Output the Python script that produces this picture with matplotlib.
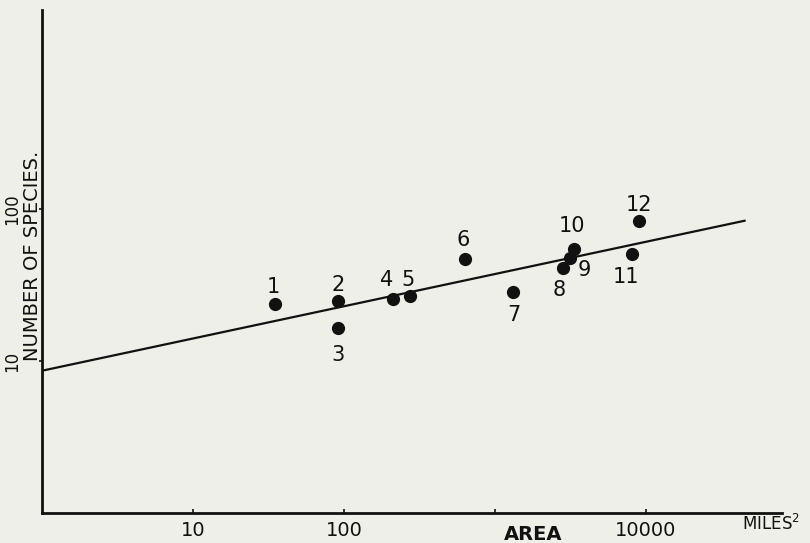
import matplotlib
matplotlib.use("Agg")
import matplotlib.pyplot as plt

# Data (log-log axes)
site_labels = ["1", "2", "3", "4", "5", "6", "7", "8", "9", "10", "11", "12"]
area = [35, 91, 91, 211, 274, 636, 1324, 2830, 3160, 3330, 8130, 8950]
species = [23.6, 24.9, 16.4, 25.5, 26.7, 46.9, 28.3, 41.1, 47.4, 54.3, 50.3, 83.7]

# Fitted line endpoints
line_area = [1, 45700]
line_species = [8.63, 84.0]

# Label offsets in pixels (dx, dy)
label_offsets = [(-2, 17), (0, 16), (0, -27), (-6, 19), (-2, 16), (-2, 19),
                 (0, -23), (-4, -22), (14, -12), (-2, 23), (-6, -23), (0, 16)]

xtick_vals = [10, 100, 1000, 10000]
xtick_labels = ["10", "100", "", "10000"]
ytick_vals = [10, 100]
ytick_labels = ["10", "100"]

bg = "#efefe9"
fig = plt.figure(figsize=(8.1, 5.43), dpi=100, facecolor=bg)
ax = fig.add_axes([42/810, 30/543, 740/810, 503/543])
ax.set_facecolor(bg)
ax.set_xscale("log")
ax.set_yscale("log")
ax.set_xlim(1, 10**(740/151))
ax.set_ylim(1, 10**(503/152))

ax.plot(line_area, line_species, color="#111111", lw=1.6, solid_capstyle="butt")
ax.plot(area, species, "o", color="#111111", ms=8.5, zorder=3)

for lab, x, y, (dx, dy) in zip(site_labels, area, species, label_offsets):
    ax.annotate(lab, (x, y), xytext=(dx, dy), textcoords="offset pixels",
                ha="center", va="center", fontsize=15, color="#111111")

for s in ["top", "right"]:
    ax.spines[s].set_visible(False)
for s in ["left", "bottom"]:
    ax.spines[s].set_linewidth(2.0)
    ax.spines[s].set_color("#111111")

ax.set_xticks(xtick_vals)
ax.set_xticklabels(xtick_labels)
ax.set_xticks([], minor=True)
ax.set_yticks(ytick_vals)
ax.set_yticklabels(ytick_labels)
ax.set_yticks([], minor=True)
ax.tick_params(axis="x", direction="in", length=3, width=1.2, pad=6,
               labelsize=14, colors="#111111")
ax.tick_params(axis="y", direction="out", length=2, width=1.2, pad=13,
               labelsize=12, colors="#111111", labelrotation=90)
for lbl in ax.get_yticklabels():
    lbl.set_va("center")

ax.text((533 - 42) / 740, -21 / 503, "AREA", transform=ax.transAxes,
        ha="center", va="center", fontsize=14, fontweight="bold", color="#111111")
ax.text((742 - 42) / 740, -11 / 503, "MILES$^{2}$", transform=ax.transAxes,
        ha="left", va="center", fontsize=12, color="#111111")
ax.text((33 - 42) / 740, (513 - 256) / 503, "NUMBER OF SPECIES.", transform=ax.transAxes,
        ha="center", va="center", rotation=90, fontsize=14, color="#111111")

fig.savefig("out.png", dpi=100, facecolor=bg)
